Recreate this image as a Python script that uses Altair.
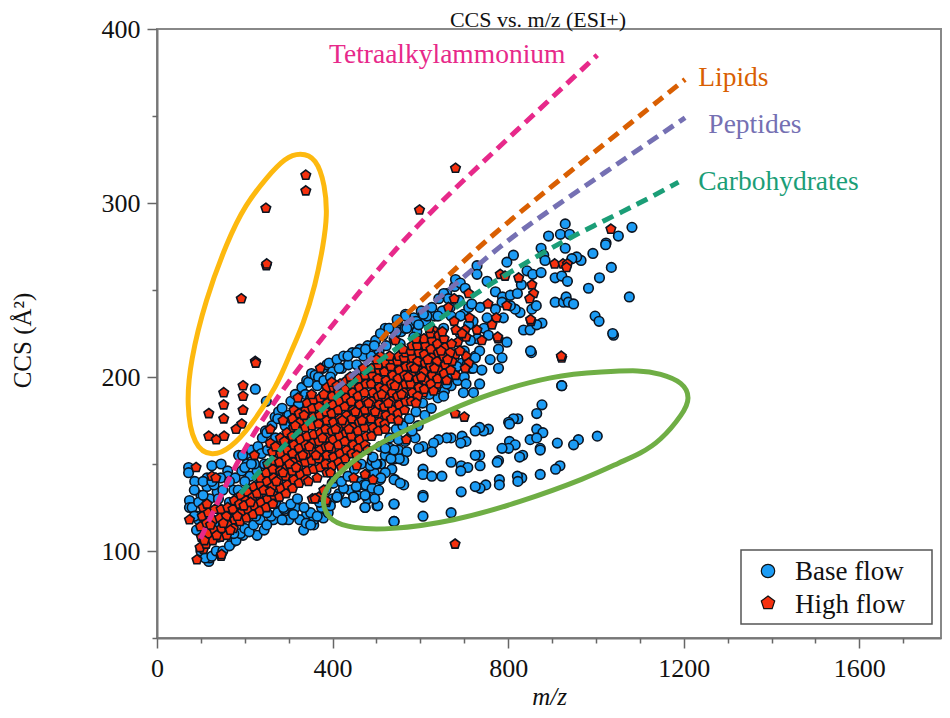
import altair as alt
import pandas as pd

SERIF = "Liberation Serif"

# ---- values: (m/z, CCS) ----
base_left = [(72,148),(72,145),(86,140),(125,149),(146,150),(161,146),(161,143),(114,142),(114,137),(100,132),(137,134),(74,129),(74,125),(91,120),(118,94),(120,96),(171,105),(196,109),(228,109),(244,112),(265,118),(288,118),(309,121),(334,112),(357,115),(379,119),(341,121),(357,118),(186,155),(205,150),(193,146),(178,142),(212,143),(228,146),(249,186),(269,177),(277,180),(247,169),(228,158),(205,156),(224,193),(80,125),(85,135),(95,128),(105,140),(110,120),(120,130),(130,138),(140,130),(150,135),(165,128),(175,135),(180,122),(90,112),(100,100),(110,96),(125,97),(135,100),(150,100),(165,103),(180,106),(190,110),(200,113),(210,111),(220,115),(235,118),(250,115),(260,120),(275,122),(290,124),(300,118),(315,125),(325,118),(340,116),(350,122),(365,120),(375,125),(390,122)]
base_upper = [(195,155),(215,158),(222,150),(230,160),(240,165),(250,168),(238,156),(252,158),(262,172),(270,165),(275,176),(285,182),(292,172),(300,178),(305,186),(315,190),(322,184),(330,194),(338,190),(341,198),(345,197),(352,202),(360,201),(368,200),(378,205),(387,207),(392,208),(400,203),(410,210),(421,205),(425,212),(436,207),(445,214),(455,207),(462,216),(470,212),(480,218),(488,212),(498,221),(506,215),(515,224),(522,218),(530,228),(540,222),(548,232),(556,226),(566,236),(575,230),(585,234),(592,226),(602,238),(612,232),(622,238),(632,235),(642,245),(650,238),(660,248),(668,240),(678,252),(688,244),(698,236),(710,240),(720,232),(730,222),(745,228),(725,212)]
base_lower = [(400,130),(415,133),(430,128),(440,135),(455,132),(465,140),(480,143),(495,145),(510,150),(520,155),(535,147),(550,158),(565,163),(580,168),(595,172),(610,178),(625,182),(640,188),(655,192),(670,195),(685,198),(700,200),(715,205),(508,160),(531,159),(501,150),(486,149),(448,131),(474,125),(501,126),(410,131),(425,136),(455,137),(471,138),(508,141),(542,141),(542,153),(540,127),(540,117),(399,139),(311,121),(288,125),(402,139),(425,136),(454,137),(476,138),(490,136)]
base_fill = [(250,122),(270,128),(285,118),(305,127),(320,130),(335,125),(350,115),(370,128),(385,135),(395,126),(405,142),(420,140),(435,143),(450,147),(465,150),(480,130),(490,152),(505,135),(520,145),(530,165),(545,170),(560,172),(575,176),(590,180),(605,185),(620,190),(635,194),(650,198),(665,202),(680,205),(695,208),(210,125),(225,120),(240,128),(190,120),(160,118),(175,110),(155,112),(140,108),(130,115),(95,118),(85,120),(105,132),(125,140),(145,142),(165,140),(185,135),(200,140),(215,135),(230,138),(245,150),(260,145),(200,148),(215,150),(275,150),(290,155),(305,165),(320,172),(335,180),(350,188),(365,195),(380,198),(395,200),(415,205),(435,212),(455,214),(475,216),(495,218),(520,228),(545,226),(565,228),(590,232),(615,235),(640,235),(670,235),(710,230),(700,215),(720,205)]
base_sparse_low = [(922,195),(877,184),(865,179),(822,176),(812,176),(801,174),(803,173),(755,170),(744,169),(735,171),(725,169),(865,170),(879,168),(850,164),(865,165),(960,164),(949,161),(1003,166),(912,162),(873,159),(873,158),(803,163),(816,161),(801,159),(786,159),(695,166),(704,163),(692,162),(670,165),(660,165),(641,164),(630,162),(626,157),(606,160),(596,159),(569,157),(562,152),(552,153),(533,153),(540,158),(520,159),(550,164),(588,165),(581,169),(735,155),(725,155),(778,152),(775,151),(833,155),(826,154),(670,151),(693,149),(708,148),(692,146),(736,149),(606,147),(606,144),(626,143),(649,143),(540,141),(562,138),(554,139),(510,142),(499,150),(492,154),(918,149),(908,147),(873,144),(831,142),(821,143),(822,140),(780,141),(780,138),(749,138),(736,136),(725,137),(693,134),(606,132),(606,131),(540,127),(540,117),(606,120),(670,122),(474,125),(503,126),(496,130),(474,132),(448,131),(410,131)]
base_upper_arm = [(930,288),(919,282),(892,281),(940,282),(930,274),(1082,286),(1051,281),(1023,277),(1022,276),(993,271),(1035,263),(1008,257),(983,251),(1076,246),(998,235),(1007,232),(1040,224),(1038,225),(966,267),(956,269),(945,268),(875,274),(881,270),(884,267),(843,261),(856,259),(875,260),(907,257),(922,258),(935,255),(812,270),(797,266),(729,264),(729,259),(752,255),(680,256),(691,254),(702,251),(771,249),(787,246),(805,247),(821,248),(830,253),(907,243),(926,243),(932,246),(937,243),(949,242),(854,239),(864,241),(827,237),(816,239),(805,241),(786,243),(771,239),(736,240),(717,242),(653,248),(664,245),(607,236),(566,235),(547,233),(569,228),(596,230),(626,240),(653,228),(691,235),(752,234),(789,234),(835,227),(850,227),(877,231),(865,230),(797,220),(778,216),(759,210),(786,211),(778,205),(740,204),(735,196),(704,196),(853,214),(851,215),(922,195),(698,191),(660,196),(755,224),(735,215),(714,221),(691,225),(619,211),(653,216),(642,223),(622,221),(585,223),(585,215),(554,219),(528,228),(509,225),(683,206),(706,207),(725,211),(664,201),(607,202),(577,204),(539,206),(653,189),(721,191)]

high_sparse = [(339,316),(339,307),(248,297),(249,264),(250,265),(192,245),(598,296),(680,320),(1034,285),(224,209),(225,208),(152,191),(196,195),(196,189),(152,184),(196,181),(118,179),(152,176),(193,173),(180,170),(118,166),(135,164),(153,166),(372,205),(321,188),(312,181),(287,175),(311,175),(258,170),(258,162),(222,155),(89,148),(125,143),(134,142),(74,118),(91,95),(146,97),(147,98),(106,101),(679,104),(700,177),(679,179),(568,164),(448,142),(474,144),(492,141),(455,149),(386,128)]
high_arm = [(906,265),(925,265),(935,265),(933,263),(824,257),(782,259),(793,258),(854,253),(858,248),(849,245),(797,241),(754,242),(710,248),(677,245),(664,240),(712,234),(773,234),(763,230),(852,232),(851,233),(677,232),(729,227),(702,227),(681,227),(629,227),(777,222),(776,223),(740,221),(704,223),(685,220),(651,219),(615,217),(597,221),(543,221),(704,212),(680,213),(664,210),(642,212),(600,214),(569,210),(550,209),(525,208),(710,208),(702,205),(651,204),(629,203),(598,204),(577,205),(680,201),(638,196),(607,196),(588,196),(568,197),(550,198),(532,193),(515,204),(509,212),(607,191),(577,192),(922,211),(921,212)]
high_core_low = [(98,102),(101,108),(99,114),(103,120),(105,125),(112,104),(116,110),(113,116),(117,122),(114,127),(127,106),(131,112),(128,118),(132,124),(144,108),(147,113),(143,119),(146,124),(159,109),(162,115),(158,120),(161,125),(174,113),(177,118),(173,124),(176,129),(189,117),(192,122),(188,127),(191,132),(204,119),(207,124),(203,129),(206,134),(219,121),(222,126),(218,131),(221,137),(234,123),(237,128),(233,133),(236,138),(235,142),(249,125),(252,130),(248,135),(251,140),(249,145),(252,150),(264,127),(267,132),(263,137),(266,142),(264,147),(267,152),(263,157),(279,131),(282,136),(278,141),(281,146),(279,151),(282,156),(278,161),(281,165)]
high_core_mid = [(294,133),(297,138),(293,143),(296,148),(294,153),(297,158),(293,163),(296,168),(309,136),(312,141),(308,146),(311,151),(309,156),(312,161),(308,166),(311,171),(309,176),(324,139),(327,144),(323,149),(326,154),(324,159),(327,164),(323,169),(326,174),(324,179),(339,141),(342,146),(338,151),(341,156),(339,161),(342,166),(338,171),(341,176),(339,181),(342,185),(354,130),(357,147),(353,152),(356,157),(354,162),(357,167),(353,172),(356,177),(354,182),(357,187),(369,131),(372,148),(368,153),(371,158),(369,163),(372,168),(368,173),(371,178),(369,183),(372,188),(385,129),(387,145),(384,150),(387,155),(385,160),(388,165),(384,170),(387,175),(385,180),(388,185),(384,190),(387,194),(399,149),(402,154),(398,159),(401,164),(399,169),(402,174),(398,179),(401,184),(399,189),(402,194),(398,197)]
high_core_top = [(414,151),(417,156),(413,161),(416,166),(414,171),(417,176),(413,181),(416,186),(414,191),(417,196),(429,153),(432,158),(428,163),(431,168),(429,173),(432,178),(428,183),(431,188),(429,193),(432,198),(444,156),(447,161),(443,166),(446,171),(444,176),(447,181),(443,186),(446,191),(444,196),(447,200),(459,159),(462,164),(458,169),(461,174),(459,179),(462,184),(458,189),(461,194),(459,199),(474,161),(477,166),(473,171),(476,176),(474,181),(477,186),(473,191),(476,196),(474,201),(477,204),(489,166),(492,171),(488,176),(491,181),(489,186),(492,191),(488,196),(491,201),(489,205),(504,169),(507,174),(503,179),(506,184),(504,189),(507,194),(503,199),(506,204),(504,207),(519,173),(522,178),(518,183),(521,188),(519,193),(522,198),(518,203),(521,208),(534,176),(537,181),(533,186),(536,191),(534,196),(537,201),(533,206),(536,210),(549,179),(552,184),(548,189),(551,194),(549,199),(552,204),(548,209),(551,212),(564,181),(567,186),(563,191),(566,196),(564,201),(567,206),(563,211),(566,214),(579,186),(582,191),(578,196),(581,201),(579,206),(582,211),(578,215),(581,218),(594,189),(597,194),(593,199),(596,204),(594,209),(597,214),(593,218),(596,222),(609,193),(612,198),(608,203),(611,208),(609,213),(612,218),(608,222),(624,196),(627,201),(623,206),(626,211),(624,216),(627,221),(623,225),(639,199),(642,204),(638,209),(641,214),(639,219),(642,224),(654,202),(657,207),(653,212),(656,217),(654,222),(669,204),(672,209),(668,214),(671,219)]
high_extra = [(108,106),(122,115),(136,109),(151,116),(167,112),(183,120),(198,126),(213,128),(228,133),(243,135),(258,134),(272,140),(287,145),(302,150),(317,148),(332,155),(347,160),(362,155),(377,165),(392,160),(407,170),(422,175),(437,170),(452,180),(467,175),(482,185),(497,180),(512,190),(527,185),(542,195),(557,190),(572,200),(587,205),(602,200),(617,210),(632,205),(647,215),(662,210),(690,215),(695,225),(270,160),(290,163),(315,172),(335,178),(352,190),(380,190),(410,195),(440,200),(470,205),(500,210),(530,212),(560,216),(590,222),(620,228),(650,226),(345,140),(365,142),(380,135),(360,130),(395,145),(420,148),(455,155),(480,158),(520,170),(550,175),(590,185),(630,192),(660,198)]

base_points = base_left + base_upper + base_lower + base_fill + base_sparse_low + base_upper_arm
high_points = high_sparse + high_arm + high_core_low + high_core_mid + high_core_top + high_extra

tetra_curve = [(99,107),(190,156),(265,185),(333,209),(515,266),(638,299),(821,342),(1003,385)]
lipid_curve = [(509,221),(531,228),(600,243),(720,272),(846,299),(1203,371)]
peptide_curve = [(405,193),(417,195),(502,213),(547,228),(630,242),(782,276),(918,300),(1203,349)]
carb_curve = [(190,133),(197,135),(251,151),(372,181),(516,212),(638,232),(736,250),(843,266),(918,277),(987,286),(1101,300),(1188,312)]

yellow_ring = [(326,329),(363,326),(383,310),(388,293),(379,276),(361,253),(333,230),(304,214),(274,195),(212,171),(167,159),(126,154),(83,160),(67,184),(76,209),(110,244),(160,278),(201,299),(251,315),(292,326)]
green_ring = [(1101,204),(1146,202),(1199,197),(1215,188),(1199,179),(1146,163),(1101,156),(1055,151),(980,142),(827,128),(675,117),(525,112),(447,113),(395,117),(377,126),(379,135),(433,150),(525,165),(675,182),(752,190),(903,201),(1017,203)]

curve_labels = ["Tetraalkylammonium", "Lipids", "Peptides", "Carbohydrates"]
label_mz = [392, 1233, 1256, 1233]
label_ccs = [385, 372, 345, 312]
curve_colors = ["#E7298A", "#D95F02", "#7570B3", "#1B9E77"]

series_names = ["Base flow", "High flow"]
series_fill = ["#1C9CF5", "#F5300E"]
PENTAGON = "M0,-1.05L1,-0.3L0.62,0.85L-0.62,0.85L-1,-0.3Z"

x_major = [0, 400, 800, 1200, 1600]
x_minor = [100, 200, 300, 500, 600, 700, 900, 1000, 1100, 1300, 1400, 1500, 1700]
y_major = [100, 200, 300, 400]
y_minor = [50, 150, 250, 350]

# ---- tables ----
points = pd.DataFrame(
    [{"mz": a, "ccs": b, "flow": series_names[0]} for a, b in base_points]
    + [{"mz": a, "ccs": b, "flow": series_names[1]} for a, b in high_points]
)
def table(rows):
    return pd.DataFrame([{"mz": a, "ccs": b, "i": i} for i, (a, b) in enumerate(rows)])

xs = alt.Scale(domain=[0, 1786], nice=False, zero=False)
ys = alt.Scale(domain=[50, 400], nice=False, zero=False)

AX = dict(grid=False, labelFont=SERIF, labelFontSize=26, labelColor="#111", tickColor="#666",
          tickWidth=1.5, domainColor="#777", domainWidth=2, titleFont=SERIF, titleFontSize=25,
          titleFontWeight="normal", titleColor="#111", format="d")

x_axis = alt.Axis(values=x_major, tickSize=10, labelPadding=7, title="m/z", titleFontStyle="italic",
                  titlePadding=3, orient="bottom", labelFlush=False, labelOverlap=False, **AX)
y_axis = alt.Axis(values=y_major, tickSize=10, labelPadding=7, title="CCS (Å²)", titlePadding=66, titleY=311,
                  orient="left", labelOverlap=False, **AX)
x_axis2 = alt.Axis(values=x_minor, tickSize=5, labels=False, domain=False, title=None, grid=False,
                   tickColor="#666", tickWidth=1.5, orient="bottom")
y_axis2 = alt.Axis(values=y_minor, tickSize=5, labels=False, domain=False, title=None, grid=False,
                   tickColor="#666", tickWidth=1.5, orient="left")

flow_scale_color = alt.Scale(domain=series_names, range=series_fill)
flow_scale_shape = alt.Scale(domain=series_names, range=["circle", PENTAGON])

scatter = alt.Chart(points).mark_point(filled=True, opacity=1, stroke="#0B1420", strokeWidth=1.6, size=92).encode(
    x=alt.X("mz:Q", scale=xs, axis=x_axis),
    y=alt.Y("ccs:Q", scale=ys, axis=y_axis),
    color=alt.Color("flow:N", scale=flow_scale_color, legend=None),
    shape=alt.Shape("flow:N", scale=flow_scale_shape, legend=None),
)

def curve(rows, color):
    return alt.Chart(table(rows)).mark_line(color=color, strokeWidth=5, strokeDash=[12, 7],
                                            interpolate="basis").encode(
        x=alt.X("mz:Q", scale=xs, axis=None), y=alt.Y("ccs:Q", scale=ys, axis=None), order="i:Q")

def ring(rows, color, axes=False):
    return alt.Chart(table(rows)).mark_line(color=color, strokeWidth=5, interpolate="basis-closed").encode(
        x=alt.X("mz:Q", scale=xs, axis=x_axis2 if axes else None),
        y=alt.Y("ccs:Q", scale=ys, axis=y_axis2 if axes else None),
        order="i:Q")

labels = alt.Chart(pd.DataFrame({"t": curve_labels, "mz": label_mz, "ccs": label_ccs})).mark_text(
    align="left", baseline="middle", font=SERIF, fontSize=27.5).encode(
    x=alt.X("mz:Q", scale=xs, axis=None), y=alt.Y("ccs:Q", scale=ys, axis=None), text="t:N",
    color=alt.Color("t:N", scale=alt.Scale(domain=curve_labels, range=curve_colors), legend=None))

# legend box drawn in plot pixels, so that the pentagon key is a real pentagon
legend_box = alt.Chart(pd.DataFrame({"k": [1]})).mark_rect(fill="white", stroke="#555", strokeWidth=1.5).encode(
    x=alt.value(584), x2=alt.value(775), y=alt.value(521), y2=alt.value(595))
legend_keys = [
    alt.Chart(pd.DataFrame({"k": [name]})).mark_point(
        filled=True, opacity=1, fill=fill, stroke="#111", strokeWidth=1.2, size=180, shape=shape).encode(
        x=alt.value(611), y=alt.value(row))
    for name, fill, shape, row in zip(series_names, series_fill, ["circle", PENTAGON], [542, 574])
]
legend_text = [
    alt.Chart(pd.DataFrame({"k": [name]})).mark_text(
        align="left", baseline="middle", font=SERIF, fontSize=27, color="#111").encode(
        x=alt.value(638), y=alt.value(row), text="k:N")
    for name, row in zip(series_names, [543, 576])
]

chart = alt.layer(
    scatter,
    ring(yellow_ring, "#FDB90F", axes=True),
    ring(green_ring, "#6FAE45"),
    curve(tetra_curve, curve_colors[0]),
    curve(lipid_curve, curve_colors[1]),
    curve(peptide_curve, curve_colors[2]),
    curve(carb_curve, curve_colors[3]),
    labels,
    legend_box,
    *legend_keys,
    *legend_text,
).resolve_axis(x="independent", y="independent").resolve_scale(color="independent", shape="independent").properties(
    width=784, height=609,
    title=alt.TitleParams("CCS vs. m/z (ESI+)", font=SERIF, fontSize=22, fontWeight="normal", color="#111",
                          anchor="middle", dx=-11, offset=-16),
    autosize=alt.AutoSizeParams(type="none"),
    padding={"left": 149, "top": 21, "right": 1, "bottom": 72},
).configure_view(stroke="#888", strokeWidth=2)

chart.save("out.html", embed_options={"renderer": "svg", "actions": False})
